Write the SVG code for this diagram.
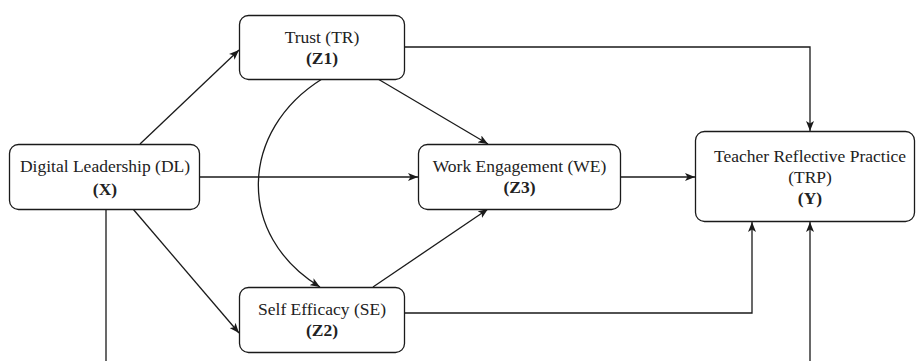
<svg xmlns="http://www.w3.org/2000/svg" width="916" height="361" viewBox="0 0 916 361">
<defs>
<style>
.box{fill:#ffffff;stroke:#1a1a1a;stroke-width:1.3}
.t{font-size:17.5px;fill:#222;text-anchor:middle}
.b{font-weight:bold}
.c{fill:none;stroke:#1a1a1a;stroke-width:1.3}
</style>
<marker id="arr" viewBox="0 0 10 8" refX="10" refY="4" markerWidth="10" markerHeight="8" markerUnits="userSpaceOnUse" orient="auto">
<path d="M0,0 L10,4 L0,8 L2.5,4 Z" fill="#1a1a1a"/>
</marker>
</defs>
<rect width="916" height="361" fill="#ffffff"/>
<g id="connectors">
<path class="c" d="M140,144 L239,50" marker-end="url(#arr)"/>
<path class="c" d="M199,177 L418,177" marker-end="url(#arr)"/>
<path class="c" d="M133,209 L239,333" marker-end="url(#arr)"/>
<path class="c" d="M378,79 L488,144" marker-end="url(#arr)"/>
<path class="c" d="M373,287 L488,209" marker-end="url(#arr)"/>
<path class="c" d="M322,79 C240,130 235,235 320,287" marker-end="url(#arr)"/>
<path class="c" d="M404,47 H810 V131" marker-end="url(#arr)"/>
<path class="c" d="M620,177 H695" marker-end="url(#arr)"/>
<path class="c" d="M404,313 H752 V222" marker-end="url(#arr)"/>
<path class="c" d="M106,209 V380 H810 V222" marker-end="url(#arr)"/>
</g>
<g font-family="Liberation Serif, Tinos, Times New Roman, DejaVu Serif, serif">
<g id="node-dl">
<rect class="box" x="9.5" y="144.5" width="190" height="65" rx="9"/>
<text class="t" x="105" y="172">Digital Leadership (DL)</text>
<text class="t b" x="105" y="195">(X)</text>
</g>
<g id="node-tr">
<rect class="box" x="239.5" y="15.5" width="165" height="64" rx="9"/>
<text class="t" x="322" y="43">Trust (TR)</text>
<text class="t b" x="322" y="64">(Z1)</text>
</g>
<g id="node-se">
<rect class="box" x="239.5" y="287.5" width="165" height="65" rx="9"/>
<text class="t" x="322" y="315">Self Efficacy (SE)</text>
<text class="t b" x="322" y="336">(Z2)</text>
</g>
<g id="node-we">
<rect class="box" x="418.5" y="144.5" width="202" height="65" rx="9"/>
<text class="t" x="519.5" y="172">Work Engagement (WE)</text>
<text class="t b" x="519.5" y="193">(Z3)</text>
</g>
<g id="node-trp">
<rect class="box" x="695.5" y="131.5" width="219" height="90" rx="9"/>
<text class="t" x="810" y="162">Teacher Reflective Practice</text>
<text class="t" x="810" y="183">(TRP)</text>
<text class="t b" x="810" y="204">(Y)</text>
</g>
</g>
</svg>
